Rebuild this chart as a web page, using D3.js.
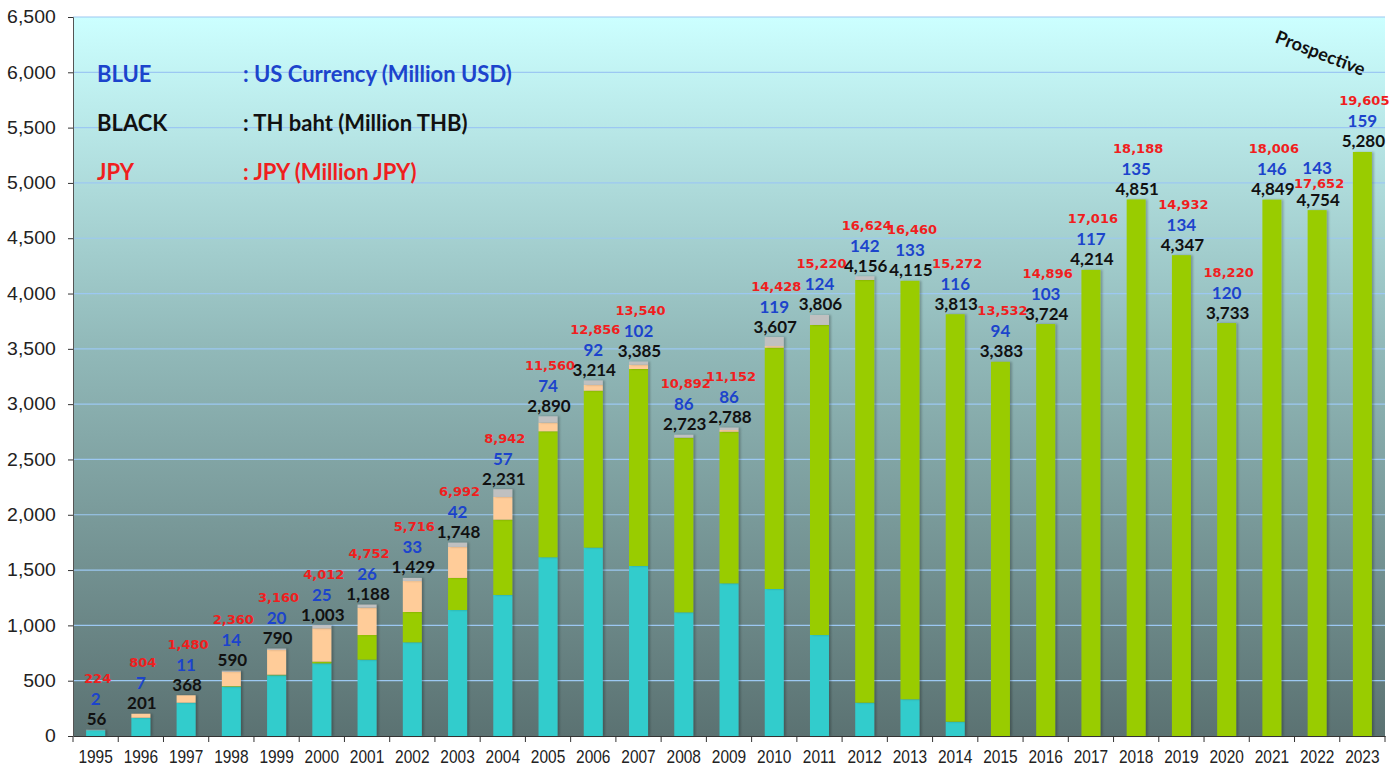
<!DOCTYPE html>
<html>
<head>
<meta charset="utf-8">
<script src="https://cdn.jsdelivr.net/npm/d3@7"></script>
<style>
  body { margin: 0; background: #fff; }
  svg { display: block; }
</style>
</head>
<body>
<div id="chart"></div>
<script>
// Data
const years = [1995, 1996, 1997, 1998, 1999, 2000, 2001, 2002, 2003, 2004, 2005, 2006, 2007, 2008, 2009,
  2010, 2011, 2012, 2013, 2014, 2015, 2016, 2017, 2018, 2019, 2020, 2021, 2022, 2023];

// stacked parts of each bar (THB million)
const tealPart  = [52, 165, 301, 446, 549, 657, 690, 847, 1139, 1275, 1616, 1703, 1537, 1118, 1380,
  1329, 913, 301, 332, 129, 0, 0, 0, 0, 0, 0, 0, 0, 0];
const greenPart = [0, 0, 0, 5, 5, 15, 223, 274, 290, 681, 1139, 1419, 1781, 1579, 1371,
  2182, 2803, 3822, 3783, 3684, 3383, 3724, 4214, 4851, 4347, 3733, 4849, 4754, 5280];
const peachPart = [0, 36, 67, 130, 224, 302, 247, 280, 280, 205, 78, 52, 39, 0, 15,
  14, 0, 0, 0, 0, 0, 0, 0, 0, 0, 0, 0, 0, 0];
const grayPart  = [4, 0, 0, 9, 12, 29, 28, 28, 39, 70, 57, 40, 28, 26, 22,
  82, 90, 33, 0, 0, 0, 0, 0, 0, 0, 0, 0, 0, 0];

// value labels
const thbTotal = [56, 201, 368, 590, 790, 1003, 1188, 1429, 1748, 2231, 2890, 3214, 3385, 2723, 2788,
  3607, 3806, 4156, 4115, 3813, 3383, 3724, 4214, 4851, 4347, 3733, 4849, 4754, 5280];
const usdTotal = [2, 7, 11, 14, 20, 25, 26, 33, 42, 57, 74, 92, 102, 86, 86,
  119, 124, 142, 133, 116, 94, 103, 117, 135, 134, 120, 146, 143, 159];
const jpyTotal = [224, 804, 1480, 2360, 3160, 4012, 4752, 5716, 6992, 8942, 11560, 12856, 13540, 10892, 11152,
  14428, 15220, 16624, 16460, 15272, 13532, 14896, 17016, 18188, 14932, 18220, 18006, 17652, 19605];

const yTicks = [0, 500, 1000, 1500, 2000, 2500, 3000, 3500, 4000, 4500, 5000, 5500, 6000, 6500];

const legendRows = [
  { key: "BLUE",  text: ": US Currency (Million USD)", color: "#1c44cc" },
  { key: "BLACK", text: ": TH baht (Million THB)",     color: "#111111" },
  { key: "JPY",   text: ": JPY (Million JPY)",         color: "#f01e1e" }
];

const partKeys = ["teal", "green", "peach", "gray"];
const partColors = { teal: "#33cccc", green: "#99cc00", peach: "#ffcc99", gray: "#c0c0c0" };

const rows = years.map((y, i) => ({
  year: y, teal: tealPart[i], green: greenPart[i], peach: peachPart[i], gray: grayPart[i],
  thb: thbTotal[i], usd: usdTotal[i], jpy: jpyTotal[i]
}));

const fullW = 1399, fullH = 767;
const margin = { top: 17, right: 14, bottom: 31, left: 73 },
  width = fullW - margin.left - margin.right,
  height = fullH - margin.top - margin.bottom;

const svgRoot = d3.select("#chart").append("svg")
  .attr("width", fullW)
  .attr("height", fullH);

const defs = svgRoot.append("defs");
const grad = defs.append("linearGradient")
  .attr("id", "plotBg")
  .attr("x1", 0).attr("y1", 0).attr("x2", 0).attr("y2", 1);
grad.append("stop").attr("offset", "0%").attr("stop-color", "#ccffff");
grad.append("stop").attr("offset", "45%").attr("stop-color", "#92baba");
grad.append("stop").attr("offset", "100%").attr("stop-color", "#5b7272");

const shadow = defs.append("filter").attr("id", "barShadow")
  .attr("x", "-20%").attr("y", "-5%").attr("width", "150%").attr("height", "110%");
shadow.append("feDropShadow")
  .attr("dx", 2).attr("dy", 0).attr("stdDeviation", 1.2)
  .attr("flood-color", "#000").attr("flood-opacity", 0.25);

const svg = svgRoot.append("g")
  .attr("transform", `translate(${margin.left},${margin.top})`);

// Scales
const x = d3.scaleBand()
  .domain(years)
  .range([0, width])
  .paddingInner(0.58)
  .paddingOuter(0.29);

const y = d3.scaleLinear()
  .domain([0, 6500])
  .range([height, 0]);

// Plot background
svg.append("rect")
  .attr("width", width)
  .attr("height", height)
  .attr("fill", "url(#plotBg)");

// Gridlines
svg.append("g")
  .selectAll("line")
  .data(yTicks.filter(d => d > 0))
  .enter()
  .append("line")
  .attr("x1", 0).attr("x2", width)
  .attr("y1", d => y(d)).attr("y2", d => y(d))
  .attr("stroke", "#9cc8f2")
  .attr("stroke-width", 1.2);

// Stacked bars
const stacked = d3.stack().keys(partKeys)(rows);

svg.append("g")
  .selectAll("g")
  .data(stacked)
  .enter()
  .append("g")
  .attr("fill", d => partColors[d.key])
  .attr("filter", "url(#barShadow)")
  .selectAll("rect")
  .data(d => d.filter(s => s[1] - s[0] > 0))
  .enter()
  .append("rect")
  .attr("x", d => x(d.data.year))
  .attr("y", d => y(d[1]))
  .attr("width", x.bandwidth())
  .attr("height", d => y(d[0]) - y(d[1]));

// Axes
const xAxis = d3.axisBottom(x).tickSize(0).tickPadding(14);
const gx = svg.append("g")
  .attr("transform", `translate(0,${height})`)
  .call(xAxis);
gx.select(".domain").attr("stroke", "#333");
gx.selectAll("text")
  .attr("font-family", "Liberation Sans, Arial, sans-serif")
  .attr("font-size", 18)
  .attr("fill", "#222")
  .attr("transform", "scale(0.86,1)");

// category boundary ticks
svg.append("g")
  .selectAll("line")
  .data(d3.range(years.length + 1))
  .enter()
  .append("line")
  .attr("x1", i => i * x.step()).attr("x2", i => i * x.step())
  .attr("y1", height).attr("y2", height + 6)
  .attr("stroke", "#333");

const yAxis = d3.axisLeft(y)
  .tickValues(yTicks)
  .tickFormat(d3.format(","))
  .tickSize(5)
  .tickPadding(11);
const gy = svg.append("g").call(yAxis);
gy.select(".domain").attr("stroke", "#555");
gy.selectAll(".tick line").attr("stroke", "#333");
gy.selectAll("text")
  .attr("font-family", "Liberation Sans, Arial, sans-serif")
  .attr("font-size", 18)
  .attr("fill", "#222")
  .attr("transform", "scale(1.08,1)");

// Value labels above bars (2022 has the red and blue rows swapped)
const labelGroup = svg.append("g");
rows.forEach(d => {
  const top = y(d.thb);
  const cx = x(d.year) + x.bandwidth() / 2;
  const swapped = d.year === 2022;
  const items = [
    { text: d3.format(",")(d.thb), color: "#111", font: "Lato", size: 17, dy: -11, dx: 1 },
    { text: d3.format(",")(d.usd), color: "#1c44cc", font: "Lato", size: 17, dy: swapped ? -43 : -31, dx: 0 },
    { text: d3.format(",")(d.jpy), color: "#f01e1e", font: "DejaVu Sans", size: 13, dy: swapped ? -27 : -51, dx: 2 }
  ];
  labelGroup.selectAll(null)
    .data(items)
    .enter()
    .append("text")
    .attr("x", t => cx + t.dx)
    .attr("y", t => top + t.dy)
    .attr("dominant-baseline", "central")
    .attr("text-anchor", "middle")
    .attr("font-family", t => t.font)
    .attr("font-weight", "bold")
    .attr("font-size", t => t.size)
    .attr("fill", t => t.color)
    .text(t => t.text);
});

// Legend in the upper left
const legend = svg.append("g");
legend.selectAll(".lg-key")
  .data(legendRows)
  .enter()
  .append("text")
  .attr("x", 24)
  .attr("y", (d, i) => 56 + i * 49)
  .attr("dominant-baseline", "central")
  .attr("font-family", "Lato")
  .attr("font-weight", "bold")
  .attr("font-size", 22)
  .attr("fill", d => d.color)
  .text(d => d.key);
legend.selectAll(".lg-text")
  .data(legendRows)
  .enter()
  .append("text")
  .attr("x", 170)
  .attr("y", (d, i) => 56 + i * 49)
  .attr("dominant-baseline", "central")
  .attr("font-family", "Lato")
  .attr("font-weight", "bold")
  .attr("font-size", 22)
  .attr("fill", d => d.color)
  .text(d => d.text);

// "Prospective" note
svg.append("text")
  .attr("transform", `translate(${x(2022) + 13},${y(6180)}) rotate(21)`)
  .attr("text-anchor", "middle")
  .attr("dominant-baseline", "central")
  .attr("font-family", "Lato")
  .attr("font-weight", "bold")
  .attr("font-size", 18)
  .attr("fill", "#111")
  .text("Prospective");
</script>
</body>
</html>
